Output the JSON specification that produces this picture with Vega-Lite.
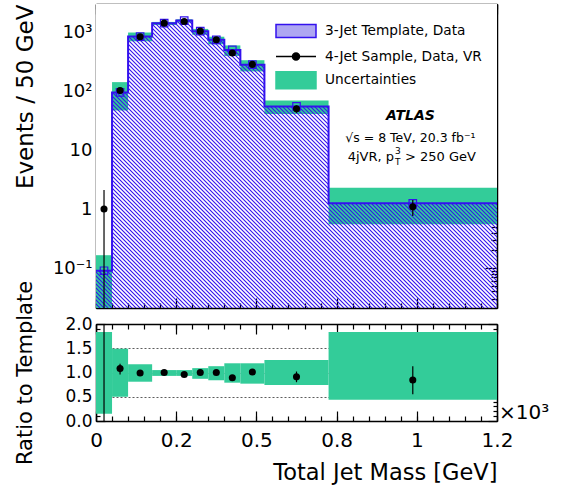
{
  "$schema": "https://vega.github.io/schema/vega-lite/v6.json",
  "background": "white",
  "padding": {"left": 13, "top": 3, "right": 5, "bottom": 5},
  "spacing": 16,
  "bounds": "flush",
  "config": {
    "font": "DejaVu Sans",
    "view": {"stroke": null},
    "axis": {
      "labelFont": "DejaVu Sans", "titleFont": "DejaVu Sans", "labelColor": "#000", "titleColor": "#000",
      "titleFontWeight": "normal", "tickColor": "#000", "domainColor": "#000", "domainWidth": 1.5,
      "tickWidth": 1.2, "grid": false, "zindex": 1, "labelFlush": false, "labelOverlap": false, "domain": false
    },
    "text": {"font": "DejaVu Sans", "color": "#000"}
  },
  "datasets": {
    "bins": [
      {"lo": 0, "hi": 50, "ctr": 25, "tmpl": 0.09, "blo": 0.0135, "bhi": 0.165, "n": 1, "nlo": 0.0001, "nhi": 2.1, "ratio": 11, "rlo": 0, "rhi": 25, "rblo": 0.15, "rbhi": 1.835},
      {"lo": 50, "hi": 100, "ctr": 75, "tmpl": 95, "blo": 47, "bhi": 142, "n": 102, "nlo": 92, "nhi": 112, "ratio": 1.08, "rlo": 0.96, "rhi": 1.18, "rblo": 0.5, "rbhi": 1.49},
      {"lo": 100, "hi": 175, "ctr": 137.5, "tmpl": 840, "blo": 700, "bhi": 985, "n": 833, "nlo": 805, "nhi": 862, "ratio": 0.99, "rlo": 0.96, "rhi": 1.02, "rblo": 0.81, "rbhi": 1.17},
      {"lo": 175, "hi": 250, "ctr": 212.5, "tmpl": 1420, "blo": 1320, "bhi": 1490, "n": 1420, "nlo": 1382, "nhi": 1458, "ratio": 1.0, "rlo": 0.97, "rhi": 1.03, "rblo": 0.93, "rbhi": 1.05},
      {"lo": 250, "hi": 300, "ctr": 275, "tmpl": 1570, "blo": 1460, "bhi": 1650, "n": 1510, "nlo": 1471, "nhi": 1549, "ratio": 0.96, "rlo": 0.93, "rhi": 0.99, "rblo": 0.93, "rbhi": 1.05},
      {"lo": 300, "hi": 350, "ctr": 325, "tmpl": 1040, "blo": 905, "bhi": 1134, "n": 1040, "nlo": 1008, "nhi": 1072, "ratio": 1.0, "rlo": 0.97, "rhi": 1.03, "rblo": 0.87, "rbhi": 1.09},
      {"lo": 350, "hi": 400, "ctr": 375, "tmpl": 740, "blo": 622, "bhi": 836, "n": 741, "nlo": 714, "nhi": 768, "ratio": 1.0, "rlo": 0.96, "rhi": 1.04, "rblo": 0.84, "rbhi": 1.13},
      {"lo": 400, "hi": 450, "ctr": 425, "tmpl": 500, "blo": 395, "bhi": 595, "n": 443, "nlo": 422, "nhi": 464, "ratio": 0.89, "rlo": 0.84, "rhi": 0.94, "rblo": 0.79, "rbhi": 1.19},
      {"lo": 450, "hi": 525, "ctr": 487.5, "tmpl": 281, "blo": 216, "bhi": 334, "n": 284, "nlo": 267, "nhi": 301, "ratio": 1.01, "rlo": 0.95, "rhi": 1.07, "rblo": 0.77, "rbhi": 1.19},
      {"lo": 525, "hi": 725, "ctr": 625, "tmpl": 55, "blo": 41, "bhi": 69, "n": 50, "nlo": 43, "nhi": 57, "ratio": 0.91, "rlo": 0.8, "rhi": 1.02, "rblo": 0.74, "rbhi": 1.26},
      {"lo": 725, "hi": 1250, "ctr": 987.5, "tmpl": 1.25, "blo": 0.55, "bhi": 2.29, "n": 1.09, "nlo": 0.76, "nhi": 1.42, "ratio": 0.845, "rlo": 0.55, "rhi": 1.13, "rblo": 0.44, "rbhi": 1.835}
    ],
    "steps": [
      {"edge": 0, "tmpl": 0.09}, {"edge": 50, "tmpl": 95}, {"edge": 100, "tmpl": 840}, {"edge": 175, "tmpl": 1420},
      {"edge": 250, "tmpl": 1570}, {"edge": 300, "tmpl": 1040}, {"edge": 350, "tmpl": 740}, {"edge": 400, "tmpl": 500},
      {"edge": 450, "tmpl": 281}, {"edge": 525, "tmpl": 55}, {"edge": 725, "tmpl": 1.25}, {"edge": 1250, "tmpl": 1.25}
    ],
    "legend": [
      {"item": "3-Jet Template, Data"}, {"item": "4-Jet Sample, Data, VR"}, {"item": "Uncertainties"}
    ]
  },
  "resolve": {"scale": {"x": "independent", "y": "independent"}},
  "vconcat": [
    {
      "width": 401,
      "height": 304,
      "resolve": {"axis": {"x": "independent", "y": "independent"}},
      "layer": [
        {
          "data": {"name": "bins"},
          "mark": {"type": "rect", "fill": "#33cc99", "clip": true},
          "encoding": {
            "x": {"field": "lo", "type": "quantitative", "scale": {"domain": [0, 1250], "nice": false, "zero": false},
                  "axis": {"orient": "bottom", "values": [0, 250, 500, 750, 1000, 1250], "labels": false, "tickSize": -10, "domain": true, "title": null}},
            "x2": {"field": "hi"},
            "y": {"field": "blo", "type": "quantitative", "scale": {"type": "log", "domain": [0.021, 3000], "nice": false},
                  "axis": {"orient": "left", "values": [0.1, 1, 10, 100, 1000],
                           "labelExpr": "datum.value < 0.5 ? '10⁻¹' : datum.value < 5 ? '1' : datum.value < 50 ? '10' : datum.value < 500 ? '10²' : '10³'",
                           "tickSize": -12, "labelPadding": 16, "labelFontSize": 18, "domain": true,
                           "title": "Events / 50 GeV", "titleFontSize": 23, "titleAnchor": "end", "titleX": -71, "titleBaseline": "middle"}},
            "y2": {"field": "tmpl"}
          }
        },
        {
          "data": {"values": [{}]},
          "mark": {"type": "rule", "color": "#3311ee", "strokeWidth": 700, "strokeDash": [1.1, 1.728], "clip": true},
          "encoding": {
            "x": {"datum": -150, "type": "quantitative", "axis": null},
            "x2": {"datum": 1400},
            "y": {"datum": 0.00048291, "type": "quantitative", "axis": null},
            "y2": {"datum": 130490}
          }
        },
        {
          "data": {"name": "steps"},
          "mark": {"type": "area", "interpolate": "step-after", "fill": "white", "opacity": 1, "clip": true},
          "encoding": {
            "x": {"field": "edge", "type": "quantitative", "scale": {"domain": [0, 1250], "nice": false, "zero": false},
                  "axis": {"orient": "bottom", "values": [0, 50, 100, 150, 200, 250, 300, 350, 400, 450, 500, 550, 600, 650, 700, 750, 800, 850, 900, 950, 1000, 1050, 1100, 1150, 1200, 1250], "labels": false, "tickSize": -5, "title": null}},
            "y": {"field": "tmpl", "type": "quantitative", "scale": {"type": "log", "domain": [0.021, 3000], "nice": false},
                  "axis": {"orient": "left", "values": [0.03, 0.04, 0.05, 0.06, 0.07, 0.08, 0.09, 0.2, 0.3, 0.4, 0.5, 0.6, 0.7, 0.8, 0.9, 2, 3, 4, 5, 6, 7, 8, 9, 20, 30, 40, 50, 60, 70, 80, 90, 200, 300, 400, 500, 600, 700, 800, 900, 2000], "labels": false, "tickSize": -6, "title": null}},
            "y2": {"datum": 10000000}
          }
        },
        {
          "data": {"name": "bins"},
          "mark": {"type": "rect", "fill": "#33cc99", "clip": true},
          "encoding": {
            "x": {"field": "lo", "type": "quantitative", "scale": {"domain": [0, 1250], "nice": false, "zero": false}, "axis": null},
            "x2": {"field": "hi"},
            "y": {"field": "tmpl", "type": "quantitative", "scale": {"type": "log", "domain": [0.021, 3000], "nice": false}, "axis": null},
            "y2": {"field": "bhi"}
          }
        },
        {
          "data": {"name": "steps"},
          "mark": {"type": "line", "interpolate": "step-after", "color": "#3311ee", "strokeWidth": 2, "clip": true},
          "encoding": {
            "x": {"field": "edge", "type": "quantitative", "scale": {"domain": [0, 1250], "nice": false, "zero": false},
                  "axis": {"orient": "top", "values": [0, 250, 500, 750, 1000, 1250], "labels": false, "tickSize": -10, "domain": true, "title": null}},
            "y": {"field": "tmpl", "type": "quantitative", "scale": {"type": "log", "domain": [0.021, 3000], "nice": false},
                  "axis": {"orient": "right", "values": [0.1, 1, 10, 100, 1000], "labels": false, "tickSize": -12, "domain": true, "title": null}}
          }
        },
        {
          "data": {"name": "bins"},
          "mark": {"type": "point", "shape": "square", "filled": false, "size": 56, "color": "#3311ee", "strokeWidth": 1.2, "opacity": 1, "clip": true},
          "encoding": {
            "x": {"field": "ctr", "type": "quantitative", "scale": {"domain": [0, 1250], "nice": false, "zero": false},
                  "axis": {"orient": "top", "values": [0, 50, 100, 150, 200, 250, 300, 350, 400, 450, 500, 550, 600, 650, 700, 750, 800, 850, 900, 950, 1000, 1050, 1100, 1150, 1200, 1250], "labels": false, "tickSize": -5, "title": null}},
            "y": {"field": "tmpl", "type": "quantitative", "scale": {"type": "log", "domain": [0.021, 3000], "nice": false},
                  "axis": {"orient": "right", "values": [0.03, 0.04, 0.05, 0.06, 0.07, 0.08, 0.09, 0.2, 0.3, 0.4, 0.5, 0.6, 0.7, 0.8, 0.9, 2, 3, 4, 5, 6, 7, 8, 9, 20, 30, 40, 50, 60, 70, 80, 90, 200, 300, 400, 500, 600, 700, 800, 900, 2000], "labels": false, "tickSize": -6, "title": null}}
          }
        },
        {
          "data": {"name": "bins"},
          "mark": {"type": "rule", "color": "#000", "strokeWidth": 1.2, "clip": true},
          "encoding": {
            "x": {"field": "ctr", "type": "quantitative", "scale": {"domain": [0, 1250], "nice": false, "zero": false}, "axis": null},
            "y": {"field": "nlo", "type": "quantitative", "scale": {"type": "log", "domain": [0.021, 3000], "nice": false}, "axis": null},
            "y2": {"field": "nhi"}
          }
        },
        {
          "data": {"name": "bins"},
          "mark": {"type": "circle", "size": 50, "color": "#000", "opacity": 1, "clip": true},
          "encoding": {
            "x": {"field": "ctr", "type": "quantitative", "scale": {"domain": [0, 1250], "nice": false, "zero": false}, "axis": null},
            "y": {"field": "n", "type": "quantitative", "scale": {"type": "log", "domain": [0.021, 3000], "nice": false}, "axis": null}
          }
        },
        {
          "data": {"name": "legend"},
          "transform": [{"filter": "datum.item == 'none'"}],
          "mark": {"type": "point", "filled": true, "opacity": 1},
          "encoding": {
            "shape": {"field": "item", "type": "nominal",
                      "scale": {"domain": ["3-Jet Template, Data", "4-Jet Sample, Data, VR", "Uncertainties"],
                                "range": ["M-1,-0.65H3V0.65H-1Z", "M-1,0H3M1.35,0A0.35,0.35,0,1,1,0.65,0A0.35,0.35,0,1,1,1.35,0Z", "M-1,-0.85H3V0.85H-1Z"]},
                      "legend": {"orient": "none", "legendX": 179, "legendY": 16, "title": null, "padding": 0, "symbolSize": 400, "symbolStrokeWidth": 1.5, "labelOffset": 28, "labelFontSize": 13.7, "labelFont": "DejaVu Sans", "labelColor": "#000", "rowPadding": 4.6}},
            "fill": {"field": "item", "type": "nominal",
                     "scale": {"domain": ["3-Jet Template, Data", "4-Jet Sample, Data, VR", "Uncertainties"], "range": ["#aea6f2", "#000000", "#33cc99"]},
                     "legend": {"orient": "none", "legendX": 179, "legendY": 16, "title": null, "padding": 0, "symbolSize": 400, "symbolStrokeWidth": 1.5, "labelOffset": 28, "labelFontSize": 13.7, "labelFont": "DejaVu Sans", "labelColor": "#000", "rowPadding": 4.6}},
            "stroke": {"field": "item", "type": "nominal",
                       "scale": {"domain": ["3-Jet Template, Data", "4-Jet Sample, Data, VR", "Uncertainties"], "range": ["#3311ee", "#000000", "#33cc99"]},
                       "legend": {"orient": "none", "legendX": 179, "legendY": 16, "title": null, "padding": 0, "symbolSize": 400, "symbolStrokeWidth": 1.5, "labelOffset": 28, "labelFontSize": 13.7, "labelFont": "DejaVu Sans", "labelColor": "#000", "rowPadding": 4.6}}
          }
        },
        {
          "data": {"values": [{}]},
          "mark": {"type": "text", "text": "ATLAS", "fontWeight": "bold", "fontStyle": "italic", "fontSize": 14, "align": "center", "baseline": "middle"},
          "encoding": {
            "x": {"datum": 980, "type": "quantitative", "axis": null},
            "y": {"datum": 37.2, "type": "quantitative", "axis": null}
          }
        },
        {
          "data": {"values": [{}]},
          "mark": {"type": "text", "text": "√s = 8 TeV, 20.3 fb⁻¹", "fontSize": 12.5, "align": "center", "baseline": "middle"},
          "encoding": {
            "x": {"datum": 980, "type": "quantitative", "axis": null},
            "y": {"datum": 16.1, "type": "quantitative", "axis": null}
          }
        },
        {
          "data": {"values": [{}]},
          "mark": {"type": "text", "text": "4jVR, p", "fontSize": 13, "align": "right", "baseline": "middle"},
          "encoding": {
            "x": {"datum": 929, "type": "quantitative", "axis": null},
            "y": {"datum": 7.7, "type": "quantitative", "axis": null}
          }
        },
        {
          "data": {"values": [{}]},
          "mark": {"type": "text", "text": "3", "fontSize": 9, "align": "left", "baseline": "middle", "dx": 1, "dy": -6},
          "encoding": {
            "x": {"datum": 929, "type": "quantitative", "axis": null},
            "y": {"datum": 7.7, "type": "quantitative", "axis": null}
          }
        },
        {
          "data": {"values": [{}]},
          "mark": {"type": "text", "text": "T", "fontSize": 9, "align": "left", "baseline": "middle", "dx": 1, "dy": 5},
          "encoding": {
            "x": {"datum": 929, "type": "quantitative", "axis": null},
            "y": {"datum": 7.7, "type": "quantitative", "axis": null}
          }
        },
        {
          "data": {"values": [{}]},
          "mark": {"type": "text", "text": "> 250 GeV", "fontSize": 13, "align": "left", "baseline": "middle", "dx": 11},
          "encoding": {
            "x": {"datum": 929, "type": "quantitative", "axis": null},
            "y": {"datum": 7.7, "type": "quantitative", "axis": null}
          }
        }
      ]
    },
    {
      "width": 401,
      "height": 97,
      "resolve": {"axis": {"x": "independent", "y": "independent"}},
      "layer": [
        {
          "data": {"name": "bins"},
          "mark": {"type": "rect", "fill": "#33cc99", "clip": true},
          "encoding": {
            "x": {"field": "lo", "type": "quantitative", "scale": {"domain": [0, 1250], "nice": false, "zero": false},
                  "axis": {"orient": "bottom", "values": [0, 250, 500, 750, 1000, 1250],
                           "labelExpr": "['0', '0.2', '0.5', '0.8', '1', '1.2'][round(datum.value / 250)]",
                           "tickSize": -10, "labelPadding": 19, "labelFontSize": 20, "domain": true,
                           "title": "Total Jet Mass [GeV]", "titleFontSize": 22.5, "titleAnchor": "end", "titleAlign": "right",
                           "titleX": 401, "titleY": 58, "titleBaseline": "alphabetic"}},
            "x2": {"field": "hi"},
            "y": {"field": "rblo", "type": "quantitative", "scale": {"domain": [0, 2], "nice": false, "zero": false},
                  "axis": {"orient": "left", "values": [0, 0.5, 1, 1.5, 2], "format": ".1f",
                           "tickSize": -9, "labelPadding": 13, "labelFontSize": 17, "domain": true,
                           "grid": true, "gridDash": [2, 2], "gridColor": "#000", "gridWidth": 0.8, "gridOpacity": 0.8,
                           "title": "Ratio to Template", "titleFontSize": 21, "titleX": -71, "titleBaseline": "middle"}},
            "y2": {"field": "rbhi"}
          }
        },
        {
          "data": {"name": "bins"},
          "mark": {"type": "rule", "color": "#000", "strokeWidth": 1.2, "clip": true},
          "encoding": {
            "x": {"field": "ctr", "type": "quantitative", "scale": {"domain": [0, 1250], "nice": false, "zero": false},
                  "axis": {"orient": "bottom", "values": [0, 50, 100, 150, 200, 250, 300, 350, 400, 450, 500, 550, 600, 650, 700, 750, 800, 850, 900, 950, 1000, 1050, 1100, 1150, 1200, 1250], "labels": false, "tickSize": -5, "title": null}},
            "y": {"field": "rlo", "type": "quantitative", "scale": {"domain": [0, 2], "nice": false, "zero": false},
                  "axis": {"orient": "left", "values": [0.1, 0.2, 0.3, 0.4, 0.6, 0.7, 0.8, 0.9, 1.1, 1.2, 1.3, 1.4, 1.6, 1.7, 1.8, 1.9], "labels": false, "tickSize": -4, "title": null}},
            "y2": {"field": "rhi"}
          }
        },
        {
          "data": {"name": "bins"},
          "mark": {"type": "circle", "size": 50, "color": "#000", "opacity": 1, "clip": true},
          "encoding": {
            "x": {"field": "ctr", "type": "quantitative", "scale": {"domain": [0, 1250], "nice": false, "zero": false},
                  "axis": {"orient": "top", "values": [0, 250, 500, 750, 1000, 1250], "labels": false, "tickSize": -10, "domain": true, "title": null}},
            "y": {"field": "ratio", "type": "quantitative", "scale": {"domain": [0, 2], "nice": false, "zero": false},
                  "axis": {"orient": "right", "values": [0, 0.5, 1, 1.5, 2], "labels": false, "tickSize": -9, "domain": true, "title": null}}
          }
        },
        {
          "data": {"values": [{}]},
          "mark": {"type": "text", "text": "×10³", "fontSize": 20, "align": "left", "baseline": "middle", "dx": 2},
          "encoding": {
            "x": {"datum": 1250, "type": "quantitative",
                  "axis": {"orient": "top", "values": [0, 50, 100, 150, 200, 250, 300, 350, 400, 450, 500, 550, 600, 650, 700, 750, 800, 850, 900, 950, 1000, 1050, 1100, 1150, 1200, 1250], "labels": false, "tickSize": -5, "title": null}},
            "y": {"datum": 0.17, "type": "quantitative",
                  "axis": {"orient": "right", "values": [0.1, 0.2, 0.3, 0.4, 0.6, 0.7, 0.8, 0.9, 1.1, 1.2, 1.3, 1.4, 1.6, 1.7, 1.8, 1.9], "labels": false, "tickSize": -4, "title": null}}
          }
        }
      ]
    }
  ]
}
